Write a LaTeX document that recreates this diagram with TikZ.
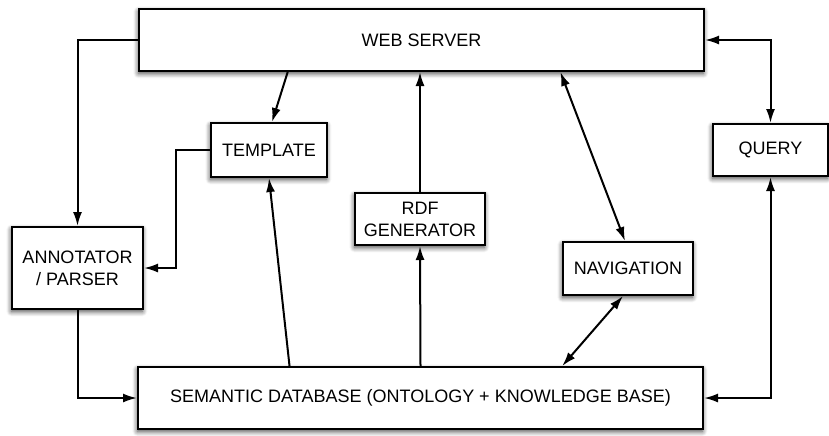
\documentclass[tikz,border=0pt]{standalone}
\usepackage{fontspec}
\setsansfont{Liberation Sans}
\usetikzlibrary{arrows.meta,calc,shadows.blur}

\begin{document}
\begin{tikzpicture}[x=0.5pt,y=-0.5pt,>={Latex[length=7pt,width=4.5pt]},line width=1pt,
  block/.style={rectangle,draw,fill=white,align=center,inner sep=0pt,
    font=\sffamily\fontsize{9}{11}\selectfont,
    blur shadow={shadow xshift=-0.3pt,shadow yshift=-1.2pt,shadow blur radius=2.5pt,
      shadow opacity=75,shadow blur steps=6}}]
  \useasboundingbox (0,0) rectangle (829,435);

  \node[block,minimum width=282.5pt,minimum height=31pt] (web) at (421.5,40) {WEB SERVER};
  \node[block,minimum width=58pt,minimum height=27pt] (template) at (269,150) {TEMPLATE};
  \node[block,minimum width=57.5pt,minimum height=26pt] (query) at (770.5,150) {QUERY};
  \node[block,minimum width=65pt,minimum height=26pt] (rdf) at (420,219) {RDF\\GENERATOR};
  \node[block,minimum width=65.5pt,minimum height=41pt] (annot) at (77.5,268) {ANNOTATOR\\/ PARSER};
  \node[block,minimum width=65pt,minimum height=26.5pt] (nav) at (628,268.5) {NAVIGATION};
  \node[block,minimum width=282.5pt,minimum height=31pt] (sem) at (420.5,398)
    {SEMANTIC DATABASE (ONTOLOGY + KNOWLEDGE BASE)};

  % left column
  \draw[->] (web.west) -| (annot.north);
  \draw[->] (annot.south) |- (sem.west);
  \draw[->] (template.west) -- ++(-34,0) |- (annot.east);

  % template and rdf
  \draw[->] ($(web.south west)!0.264!(web.south east)$) -- ([xshift=1.5pt]template.north);
  \draw[->] ($(sem.north west)!0.269!(sem.north east)$) -- (template.south);
  \draw[->] (sem.north) -- (rdf.south);
  \draw[->] (rdf.north) -- (rdf.north |- web.south);

  % navigation
  \draw[<->] ($(web.south west)!0.745!(web.south east)$) -- ([xshift=-1.5pt]nav.north);
  \draw[<->] ([xshift=-2.5pt]nav.south) -- ($(sem.north west)!0.75!(sem.north east)$);

  % query
  \draw[<->] (web.east) -| (query.north);
  \draw[<->] (query.south) |- (sem.east);
\end{tikzpicture}
\end{document}
